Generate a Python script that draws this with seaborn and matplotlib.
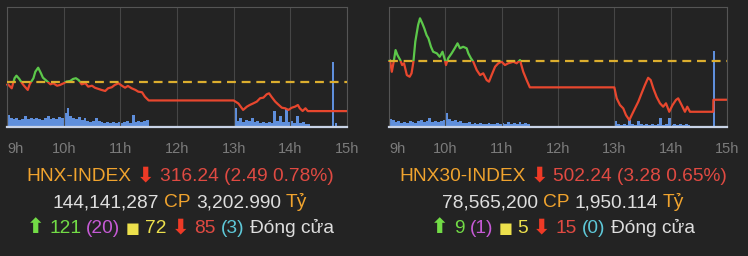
import numpy as np
import pandas as pd
import matplotlib
matplotlib.use("Agg")
import matplotlib.pyplot as plt
import seaborn as sns
from matplotlib.patches import Rectangle

# ---------------- DATA ----------------
hour_labels = ["9h", "10h", "11h", "12h", "13h", "14h", "15h"]

# HNX-INDEX (minutes after 9:00, index value)
hnx_t = [0, 1, 5, 8, 10, 13, 16, 18, 22, 24, 28, 30, 33, 36, 38, 42, 46, 49, 53, 56,
         60, 63, 67, 70, 73, 76, 79, 83, 86, 90, 93, 97, 100, 104, 107, 111, 114, 118,
         122, 125, 128, 132, 136, 139, 143, 146, 150,
         240, 245, 250, 254, 257, 261, 264.5, 268, 271.5, 275, 277.5, 280, 284, 287,
         291, 294.5, 298, 301.5, 305, 308, 310, 313, 316, 318.5, 360]
hnx_v = [318.50, 318.53, 318.19, 319.05, 319.27, 318.99, 318.62, 318.41, 318.05, 318.53,
         319.05, 319.61, 319.95, 319.47, 319.10, 318.82, 318.53, 318.62, 318.41, 318.47,
         318.62, 318.76, 318.82, 318.99, 319.05, 318.88, 318.53, 318.62, 318.33, 318.41,
         318.24, 318.13, 318.05, 317.96, 318.19, 318.28, 318.47, 318.62, 318.39, 318.24,
         318.39, 318.19, 318.05, 317.90, 317.85, 317.47, 317.15,
         317.15, 316.89, 316.34, 316.62, 316.76, 316.91, 317.05, 317.34, 317.39, 317.68,
         317.76, 317.47, 317.05, 316.82, 316.53, 316.48, 316.34, 316.53, 316.62, 316.76,
         316.48, 316.25, 316.48, 316.24, 316.24]
hnx_ref = 318.73

# volume (thousand shares per 3-minute bin)
hnx_vol_am = [1200, 900, 800, 900, 700, 800, 1100, 800, 900, 800, 900, 800, 700, 900, 1100,
              800, 900, 800, 1000, 900, 1400, 1900, 1100, 900, 800, 1000, 700, 900, 600, 500,
              600, 900, 600, 500, 400, 500, 400, 500, 400, 500, 400, 500, 600, 400, 1200,
              500, 600, 500, 600, 700]
hnx_vol_pm = [1900, 600, 900, 500, 700, 600, 900, 500, 600, 400, 500, 400, 500, 400, 1600,
              600, 1100, 500, 1800, 500, 600, 400, 1100, 400, 500, 300, 300]
hnx_atc_t = [344, 347]
hnx_atc_v = [6500, 400]

# HNX30-INDEX
h30_t = [0, 1, 3, 5, 7, 9, 12, 14, 16, 19, 22, 24, 26, 28, 31, 33, 35.5, 37.6, 40, 42,
         44.7, 47, 51, 54, 57, 59.6, 60.7, 63, 66.7, 70, 73, 75.6, 79, 82.7, 84.5, 87.3,
         89.8, 93.4, 97, 100.4, 104, 106.5, 109.3, 113, 116.4, 120, 123.5, 127, 132.4,
         136, 139.5, 143, 146.6, 150,
         240, 242.5, 246, 249.5, 252.4, 256, 258.5, 262, 265.5, 269, 272.6, 276, 278.7,
         281.5, 285, 288.6, 292, 295, 298.5, 302, 305.6, 308, 311.7, 315.2, 317.7, 320.6,
         345.4, 345.5, 360]
h30_v = [505.52, 505.60, 504.61, 505.46, 506.45, 506.03, 505.60, 505.18, 505.33, 504.33,
         504.19, 504.48, 505.46, 507.16, 508.57, 509.14, 508.71, 508.29, 507.72, 507.44,
         506.73, 506.31, 506.17, 505.88, 506.31, 505.60, 505.18, 505.75, 506.17, 506.60,
         507.02, 506.60, 506.73, 506.60, 506.17, 505.75, 505.46, 504.76, 504.33, 504.48,
         503.91, 503.77, 504.33, 505.04, 505.33, 505.46, 505.18, 505.33, 505.46, 505.33,
         505.60, 504.61, 503.91, 503.29,
         503.29, 502.36, 501.79, 501.51, 500.94, 500.52, 500.94, 501.51, 502.07, 502.78,
         503.49, 504.10, 503.91, 503.21, 502.49, 501.94, 501.65, 501.94, 501.22, 501.79,
         502.22, 502.36, 501.79, 501.22, 501.65, 501.22, 501.22, 502.24, 502.24]
h30_ref = 505.52

h30_vol_am = [800, 700, 500, 600, 400, 500, 400, 600, 500, 400, 600, 700, 500, 600, 900,
              500, 600, 500, 600, 700, 1400, 800, 600, 700, 500, 600, 400, 400, 500, 300,
              400, 300, 400, 300, 300, 400, 300, 300, 400, 300, 400, 300, 500, 300, 400,
              300, 500, 300, 400, 300]
h30_vol_pm = [600, 300, 200, 300, 200, 700, 300, 200, 600, 300, 200, 300, 200, 300, 200,
              300, 900, 200, 300, 900, 200, 300, 200, 300, 200, 300, 200]
h30_atc_t = [345]
h30_atc_v = [7600]

# summary texts
names = ["HNX-INDEX", "HNX30-INDEX"]
closes = ["316.24", "502.24"]
changes = ["2.49", "3.28"]
pcts = ["0.78%", "0.65%"]
shares = ["144,141,287", "78,565,200"]
values_bn = ["3,202.990", "1,950.114"]
up_counts = ["121", "9"]
ceil_counts = ["20", "1"]
flat_counts = ["72", "5"]
down_counts = ["85", "15"]
floor_counts = ["3", "0"]

# ---------------- STYLE ----------------
BG = "#232323"
RED = "#e8472e"
GREEN = "#5cc84a"
YEL_DASH = "#dcae2e"
VOL = "#5f8fdc"
GRID = "#464646"
ORANGE = "#f0a32e"
WHITE = "#dedede"
RED_TXT = "#e04a42"
RED_ARROW = "#ee3a26"
GREEN_TXT = "#72dc46"
PURPLE = "#c65ad6"
YELLOW = "#ece04c"
CYAN = "#5ec8d8"

sns.set_theme(style="dark")
plt.rcParams['font.family'] = ['Liberation Sans', 'DejaVu Sans']

W, H = 748, 256
fig = plt.figure(figsize=(W / 100, H / 100), dpi=100, facecolor=BG)


def px_axes(l, t, r, b):
    return fig.add_axes([l / W, 1 - b / H, (r - l) / W, (b - t) / H])


def panel(ax, t, v, ref, ylim, vol_am, vol_pm, atc_t, atc_v, vol_top):
    ax2 = ax.twinx()
    ax2.set_zorder(1)
    ax.set_zorder(2)
    ax.patch.set_visible(False)
    ax2.patch.set_facecolor(BG)
    ax2.patch.set_visible(True)

    am_t = np.arange(len(vol_am)) * 3
    pm_t = 240 + np.arange(len(vol_pm)) * 3
    ax2.bar(am_t, vol_am, width=3, align='edge', color=VOL, linewidth=0)
    ax2.bar(pm_t, vol_pm, width=3, align='edge', color=VOL, linewidth=0)
    ax2.bar(atc_t, atc_v, width=2, align='edge', color=VOL, linewidth=0)
    ax2.set_ylim(0, vol_top)
    ax2.set_yticks([])
    for s in ax2.spines.values():
        s.set_visible(False)

    df = pd.DataFrame({"t": t, "v": v})
    sns.lineplot(data=df, x="t", y="v", ax=ax, color=RED, linewidth=1.6,
                 estimator=None, sort=False)
    red_line = ax.lines[-1]
    sns.lineplot(data=df, x="t", y="v", ax=ax, color=GREEN, linewidth=1.6,
                 estimator=None, sort=False)
    green_line = ax.lines[-1]
    red_line.set_clip_path(Rectangle((-20, ylim[0] - 20), 420, ref - ylim[0] + 20,
                                     transform=ax.transData))
    green_line.set_clip_path(Rectangle((-20, ref), 420, 200, transform=ax.transData))

    ax.axhline(ref, color=YEL_DASH, linewidth=1.6, dashes=(4, 2.6), zorder=3)

    ax.set_xlim(0, 360)
    ax.set_ylim(*ylim)
    ax.set_xticks(range(0, 361, 60))
    ax.set_xticklabels(hour_labels)
    ax.set_yticks([])
    ax.set_xlabel("")
    ax.set_ylabel("")
    ax.grid(axis="x", color=GRID, linewidth=0.8)
    ax.grid(axis="y", visible=False)
    ax.tick_params(axis="x", colors="#7b7b7b", labelsize=10.5, length=0, pad=11)
    for k, s in ax.spines.items():
        s.set_visible(True)
        s.set_color("#555555")
        s.set_linewidth(0.8)
    ax.spines["bottom"].set_color("#c9d3e6")
    ax.spines["bottom"].set_linewidth(1.6)
    ax.get_xticklabels()[0].set_horizontalalignment("left")


axL = px_axes(7, 7, 347, 127)
panel(axL, hnx_t, hnx_v, hnx_ref, (314.88, 325.14), hnx_vol_am, hnx_vol_pm,
      hnx_atc_t, hnx_atc_v, 12000)
axR = px_axes(389, 7, 727, 127)
panel(axR, h30_t, h30_v, h30_ref, (499.93, 510.10), h30_vol_am, h30_vol_pm,
      h30_atc_t, h30_atc_v, 12000)

renderer = fig.canvas.get_renderer()
FS = 13.8


def rich(parts, cx, base_y):
    items = []
    for p in parts:
        s, c = p[0], p[1]
        sz = p[2] if len(p) > 2 else FS
        kw = p[3] if len(p) > 3 else {}
        txt = fig.text(0, 1 - base_y / H, s, color=c, fontsize=sz,
                       va="baseline", ha="left", **kw)
        w = txt.get_window_extent(renderer).width
        items.append((txt, w))
    gap = FS * 0.27 * 100 / 72
    total = sum(w for _, w in items) + gap * (len(items) - 1)
    x = cx - total / 2
    for txt, w in items:
        txt.set_x(x / W)
        x += w + gap


ARW = {"family": ["DejaVu Sans"], "fontweight": "bold"}
for i, cx in enumerate([180, 563]):
    rich([(names[i], ORANGE), ("\u2b07", RED_ARROW, 15, ARW),
          (f"{closes[i]} ({changes[i]} {pcts[i]})", RED_TXT)], cx, 181)
    rich([(shares[i], WHITE), ("CP", ORANGE), (values_bn[i], WHITE), ("Tỷ", ORANGE)],
         cx, 207)
    rich([("\u2b06", GREEN_TXT, 15, ARW), (up_counts[i], GREEN_TXT),
          (f"({ceil_counts[i]})", PURPLE), ("\u25a0", YELLOW, 10.5, {"family": ["DejaVu Sans"]}),
          (flat_counts[i], YELLOW), ("\u2b07", RED_ARROW, 15, ARW), (down_counts[i], RED_TXT),
          (f"({floor_counts[i]})", CYAN), ("Đóng cửa", WHITE)], cx, 233)

fig.savefig("out.png", dpi=100, facecolor=BG)
